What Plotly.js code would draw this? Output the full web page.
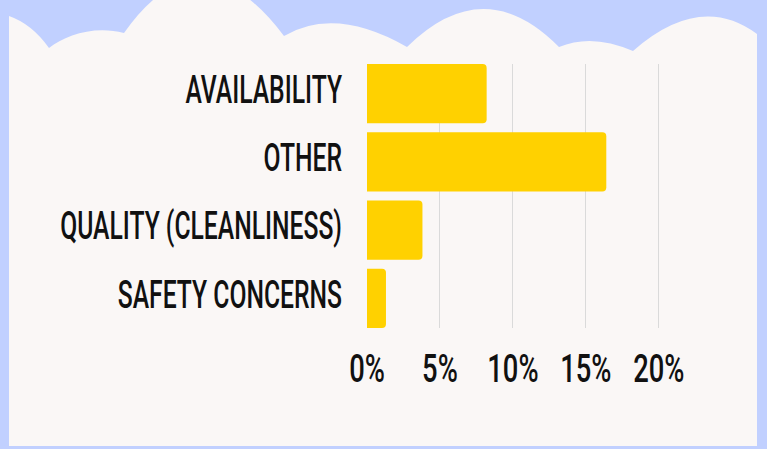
<!DOCTYPE html>
<html>
<head>
<meta charset="utf-8">
<script src="https://cdn.plot.ly/plotly-3.0.1.min.js"></script>
<style>
  html, body { margin: 0; padding: 0; background: #C1D0FF; }
  #wrap { position: relative; width: 767px; height: 449px; overflow: hidden; }
  #bg { position: absolute; left: 0; top: 0; }
  #chart { position: absolute; left: 0; top: 0; width: 767px; height: 449px; }
</style>
</head>
<body>
<div id="wrap">
  <svg id="bg" width="767" height="449" viewBox="0 0 767 449">
    <rect x="0" y="0" width="767" height="449" fill="#C1D0FF"/>
    <path fill="#FAF7F6" d="M9,446 L9,16 Q32,24 49,48 C65,35 95,25 124,33 Q200,-75 284,36 Q335,6 407,47 Q484,-29 559,47 Q592,33 633,51 Q700,-8 757,34 L757,446 Z"/>
  </svg>
  <div id="chart"></div>
</div>
<script>
const categories = ['AVAILABILITY', 'OTHER', 'QUALITY (CLEANLINESS)', 'SAFETY CONCERNS'];
const shares = [8.2, 16.4, 3.8, 1.3];
const xTickVals = [0, 5, 10, 15, 20];
const xTickText = ['0%', '5%', '10%', '15%', '20%'];

const font = 'Roboto, Liberation Sans, sans-serif';

Plotly.newPlot('chart', [{
  type: 'bar',
  orientation: 'h',
  y: categories,
  x: shares,
  marker: { color: '#FFD100', cornerradius: 4 },
  hoverinfo: 'none'
}], {
  width: 767,
  height: 449,
  margin: { l: 367, r: 79, t: 64, b: 121 },
  paper_bgcolor: 'rgba(0,0,0,0)',
  plot_bgcolor: 'rgba(0,0,0,0)',
  bargap: 0.13,
  showlegend: false,
  xaxis: {
    range: [0, 22],
    tickvals: xTickVals,
    ticktext: xTickText,
    tickangle: 0,
    showgrid: true,
    gridcolor: '#DADADA',
    gridwidth: 1,
    zeroline: false,
    showline: false,
    ticks: '',
    ticklabelstandoff: 15,
    tickfont: { family: font, size: 38, color: '#111111', weight: 500 }
  },
  yaxis: {
    type: 'category',
    autorange: false,
    range: [3.435, -0.435],
    showgrid: false,
    zeroline: false,
    showline: false,
    ticks: '',
    ticklabelstandoff: 24,
    tickfont: { family: font, size: 38, color: '#111111', weight: 500 }
  }
}, { displayModeBar: false, staticPlot: true }).then(function () {
  // condense the tick label glyphs horizontally (the original uses a narrow display face)
  function condense(selector, s, dy) {
    document.querySelectorAll(selector).forEach(function (t) {
      const x = parseFloat(t.getAttribute('x')) || 0;
      const tr = t.getAttribute('transform') || '';
      t.setAttribute('transform', tr + ' translate(' + x + ',' + dy + ') scale(' + s + ',1) translate(' + (-x) + ',0)');
    });
  }
  condense('#chart .ytick text', 0.65, -4);
  condense('#chart .xtick text', 0.72, 0);
});
</script>
</body>
</html>
